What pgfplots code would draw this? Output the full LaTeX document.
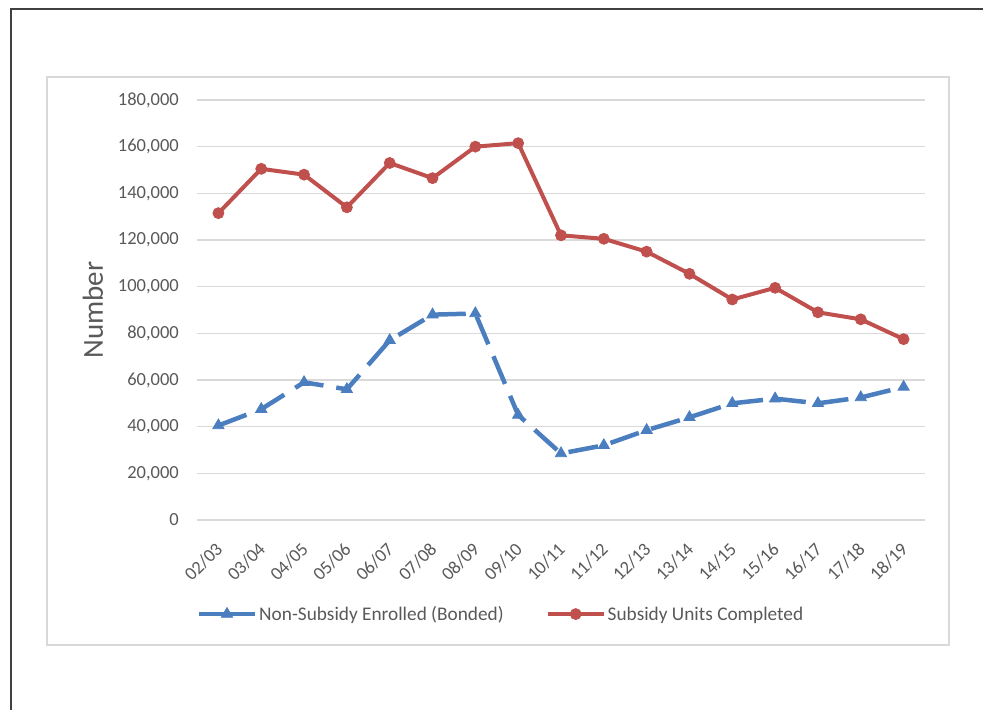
\documentclass[border=0pt]{standalone}
\usepackage{fontspec}
\setmainfont{Carlito}
\usepackage{pgfplots}
\pgfplotsset{compat=1.18}
\definecolor{serblue}{HTML}{4A7EBF}
\definecolor{serred}{HTML}{C0504D}
\definecolor{gridgray}{HTML}{D9D9D9}
\definecolor{labgray}{HTML}{595959}
\definecolor{framegray}{HTML}{404040}

\begin{document}
\begin{tikzpicture}[x=1pt,y=1pt]
% page extent and the surrounding frames
\path (0,0) rectangle (985,710);
\draw[framegray, line width=1.5pt] (11,0) -- (11,701) -- (983,701);
\draw[gridgray, line width=1.5pt] (47,65) rectangle (949,633);
\begin{axis}[
  at={(197pt,190pt)}, anchor=south west,
  scale only axis, width=728pt, height=420pt,
  xmin=-0.5, xmax=16.5, ymin=0, ymax=180000,
  xtick={0,...,16},
  xticklabels={02/03,03/04,04/05,05/06,06/07,07/08,08/09,09/10,10/11,11/12,12/13,13/14,14/15,15/16,16/17,17/18,18/19},
  ytick={0,20000,40000,60000,80000,100000,120000,140000,160000,180000},
  yticklabels={0,{20,000},{40,000},{60,000},{80,000},{100,000},{120,000},{140,000},{160,000},{180,000}},
  scaled y ticks=false,
  axis line style={draw=none},
  major tick length=0pt,
  ymajorgrids,
  major grid style={gridgray, line width=1.5pt},
  yticklabel style={font=\fontsize{18.5}{20}\selectfont, text=labgray, anchor=east, inner sep=0pt, xshift=-18pt},
  xticklabel style={font=\fontsize{18.5}{20}\selectfont, text=labgray, inner sep=0pt, xshift=1pt, yshift=-26pt, rotate=45, anchor=east},
  ylabel={Number},
  every axis y label/.style={at={(axis description cs:-0.143,0.5)}, rotate=90, anchor=center, font=\fontsize{29}{31}\selectfont, text=labgray},
  clip=false,
  legend columns=2,
  legend style={at={(0.4176,-0.224)}, anchor=center, draw=none, fill=none,
    font=\fontsize{19.3}{21}\selectfont, text=labgray,
    /tikz/every even column/.append style={column sep=40pt}},
  legend image code/.code={
    \draw[mark repeat=2, mark phase=2, #1, solid] plot coordinates {(0pt,0pt) (28pt,0pt) (56pt,0pt)};
  },
]
% Non-subsidy homes enrolled (bonded)
\addplot[serblue, line width=4.5pt, dash pattern=on 30pt off 13pt,
  mark=triangle*, mark size=6.5pt, mark options={solid, line width=0.8pt}]
  coordinates {
  (0,40500) (1,47500) (2,59000) (3,56000) (4,77000) (5,88000) (6,88500)
  (7,45000) (8,28500) (9,32000) (10,38500) (11,44000) (12,50000) (13,52000)
  (14,50000) (15,52500) (16,57000)
};
\addlegendentry{Non-Subsidy Enrolled (Bonded)}
% Subsidy housing units completed
\addplot[serred, line width=4pt,
  mark=*, mark size=5.5pt, mark options={solid, line width=0.8pt}]
  coordinates {
  (0,131500) (1,150500) (2,148000) (3,134000) (4,153000) (5,146500) (6,160000)
  (7,161500) (8,122000) (9,120500) (10,115000) (11,105500) (12,94500) (13,99500)
  (14,89000) (15,86000) (16,77500)
};
\addlegendentry{Subsidy Units Completed}
\end{axis}
\end{tikzpicture}
\end{document}
